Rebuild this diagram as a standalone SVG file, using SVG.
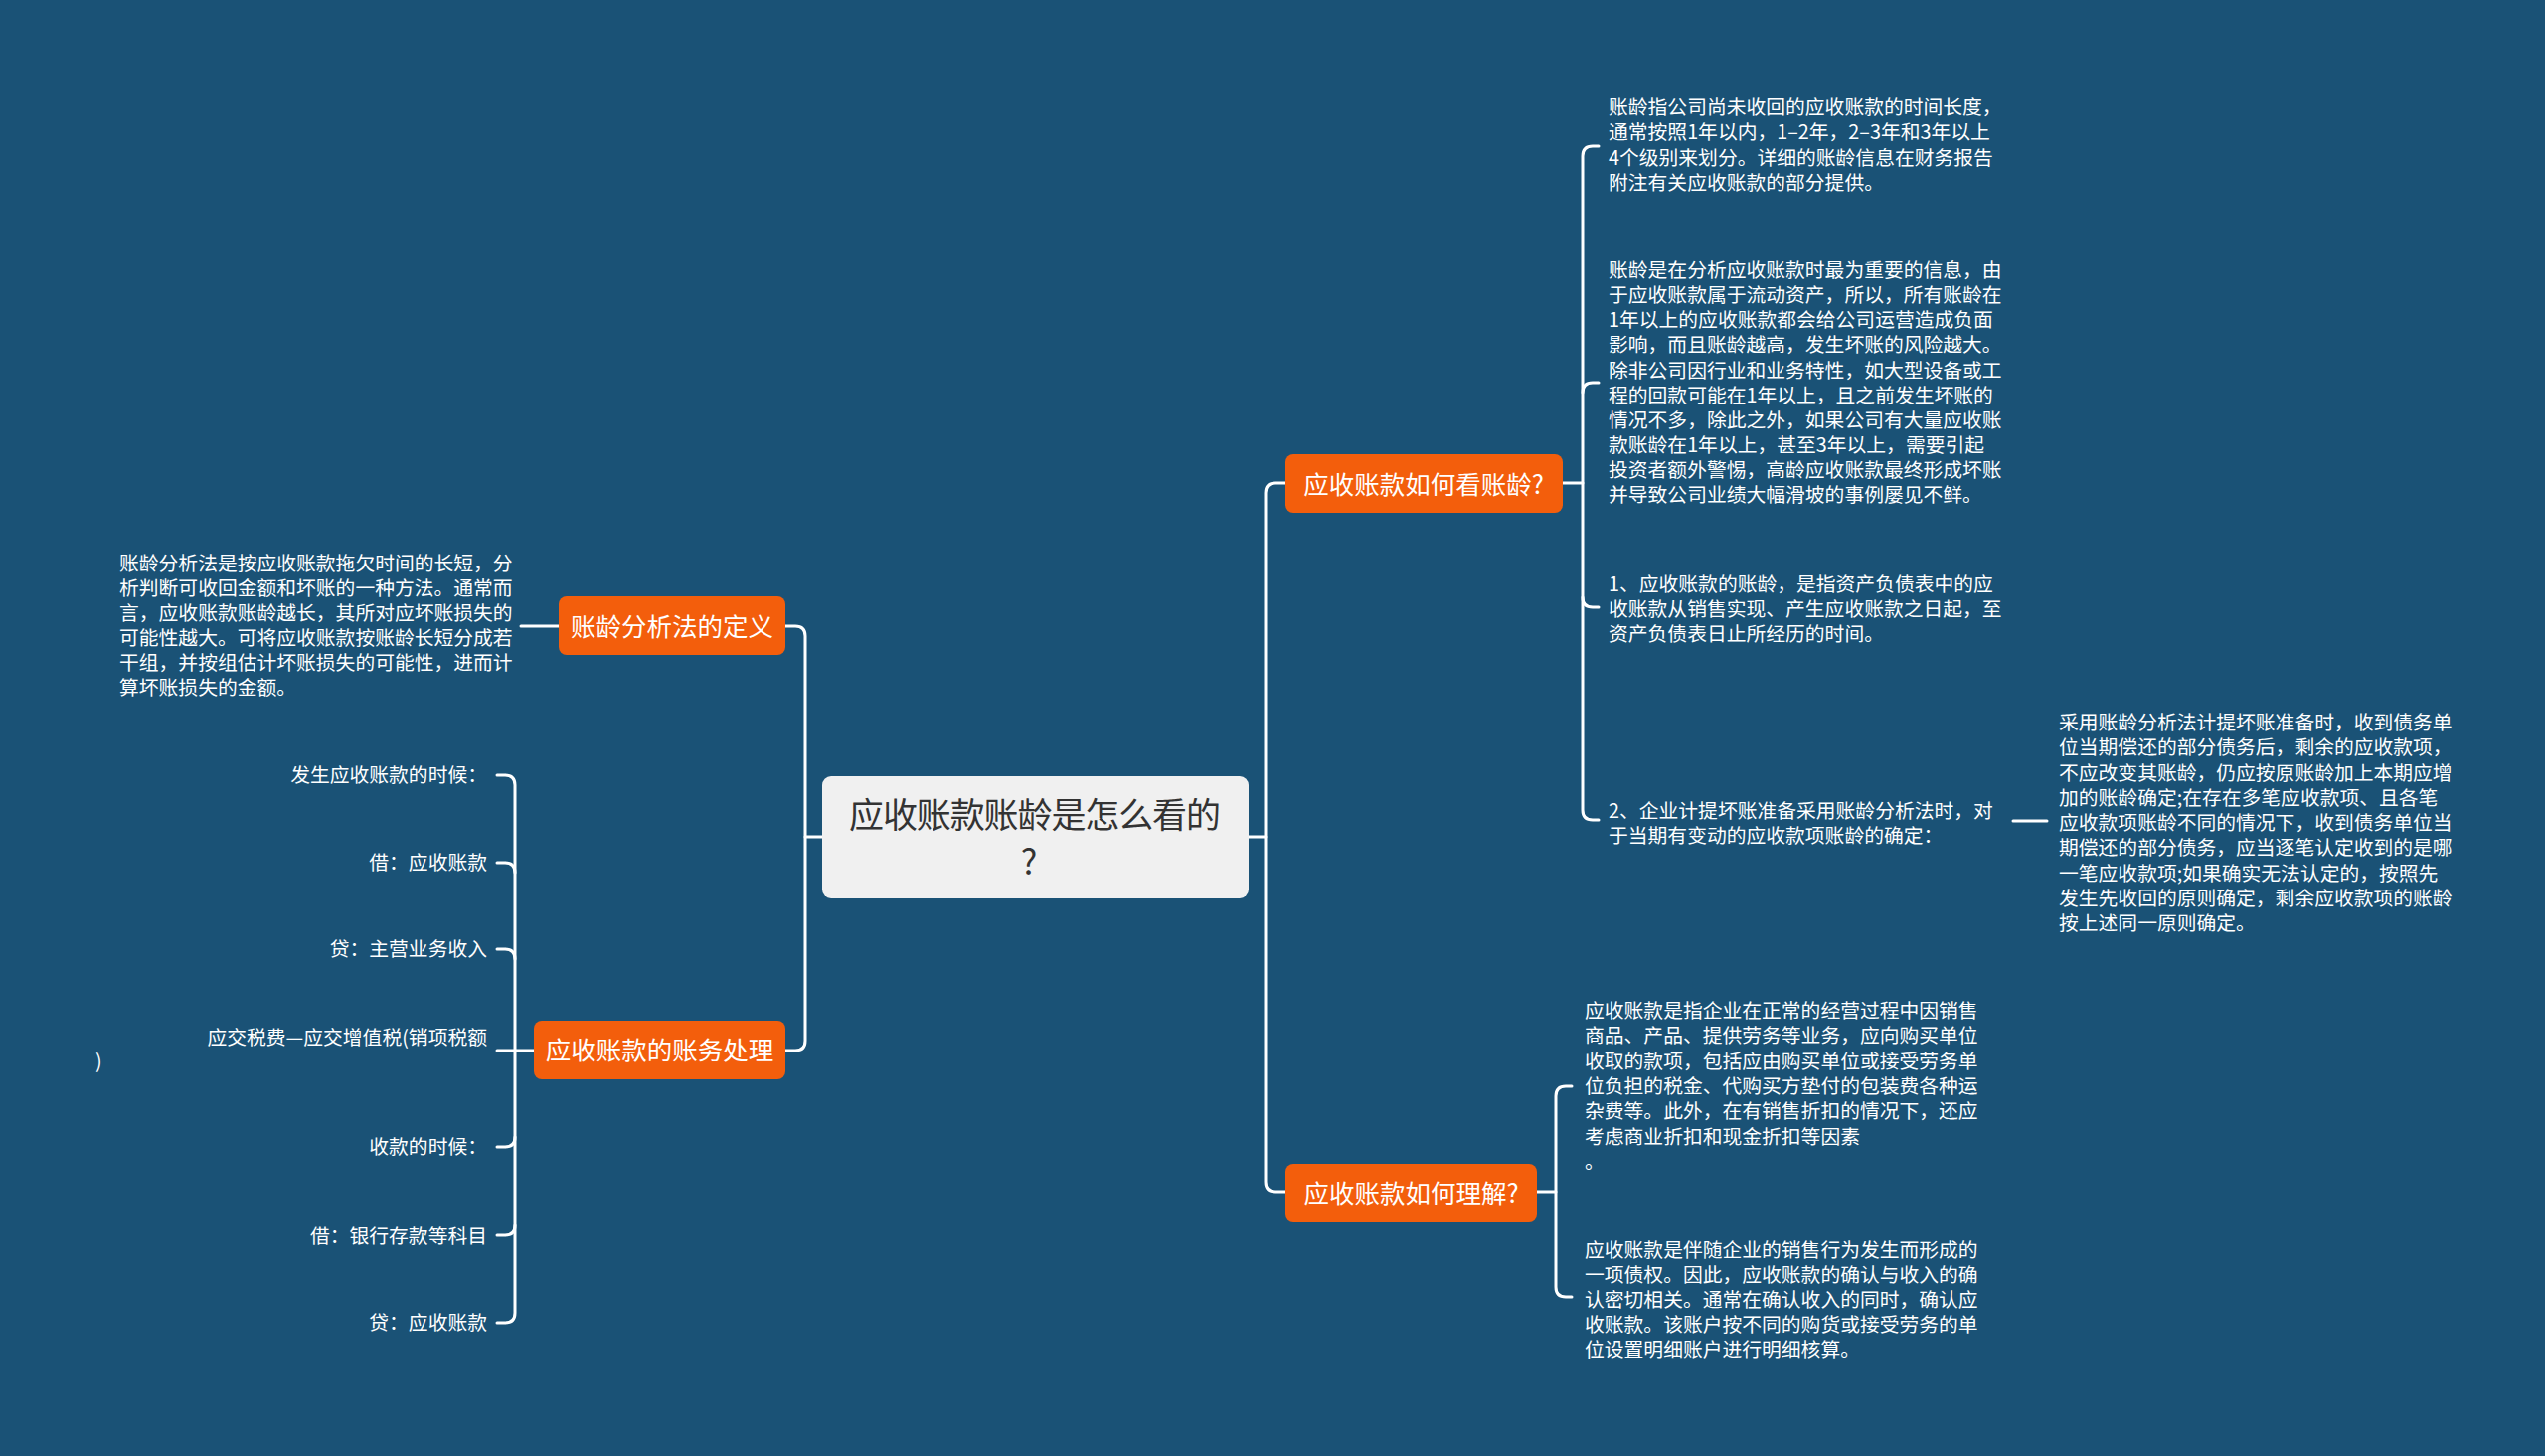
<svg xmlns="http://www.w3.org/2000/svg" width="2560" height="1465" viewBox="0 0 2560 1465">
<style>
.bg{fill:#1a5276}
.ln{fill:none;stroke:#ffffff;stroke-width:3;stroke-linecap:round;stroke-linejoin:round}
.org{fill:#f35e0c}
.ot{font-family:"Noto Sans CJK SC","Noto Sans",sans-serif;font-size:25.5px;fill:#ffffff;text-anchor:middle}
.tx{font-family:"Noto Sans CJK SC","Noto Sans",sans-serif;font-size:19.8px;fill:#ffffff}
.it{font-family:"Noto Sans CJK SC","Noto Sans",sans-serif;font-size:19.8px;fill:#ffffff;text-anchor:end}
.ct{font-family:"Noto Sans CJK SC","Noto Sans",sans-serif;font-size:35px;fill:#333333}
</style>
<rect class="bg" x="0" y="0" width="2560" height="1465"/>

<g id="connectors">
  <path class="ln" d="M828 842 H810"/>
  <path class="ln" d="M790 630 H800 Q810 630 810 640 V1047 Q810 1057 800 1057 H790"/>
  <path class="ln" d="M524 630 H562"/>
  <path class="ln" d="M537 1057 H500"/>
  <path class="ln" d="M500 780 H508 Q518 780 518 790 V1321 Q518 1331 508 1331 H500"/>
  <path class="ln" d="M500 868 H508 Q518 868 518 878"/>
  <path class="ln" d="M500 955 H508 Q518 955 518 965"/>
  <path class="ln" d="M500 1154 H508 Q518 1154 518 1144"/>
  <path class="ln" d="M500 1243 H508 Q518 1243 518 1233"/>
  <path class="ln" d="M1256 842 H1273"/>
  <path class="ln" d="M1293 486 H1283 Q1273 486 1273 496 V1189 Q1273 1199 1283 1199 H1293"/>
  <path class="ln" d="M1572 486 H1592"/>
  <path class="ln" d="M1608 147 H1602 Q1592 147 1592 157 V815 Q1592 825 1602 825 H1608"/>
  <path class="ln" d="M1608 385 H1602 Q1592 385 1592 395"/>
  <path class="ln" d="M1608 611 H1602 Q1592 611 1592 601"/>
  <path class="ln" d="M2025 826 H2059"/>
  <path class="ln" d="M1546 1199 H1565"/>
  <path class="ln" d="M1581 1093 H1575 Q1565 1093 1565 1103 V1295 Q1565 1305 1575 1305 H1581"/>
</g>

<g id="root">
  <rect x="827" y="781" width="429" height="123" rx="9" fill="#f0f0f0"/>
  <text class="ct" x="854" y="833" textLength="374" lengthAdjust="spacing">应收账款账龄是怎么看的</text>
  <text class="ct" x="1035" y="880" text-anchor="middle">?</text>
</g>

<g id="n-def">
  <rect class="org" x="562" y="600" width="228" height="59" rx="8"/>
  <text class="ot" x="676" y="639.5">账龄分析法的定义</text>
</g>
<g id="n-def-text">
  <text class="tx" x="120" y="574">
    <tspan x="120" dy="0">账龄分析法是按应收账款拖欠时间的长短，分</tspan>
    <tspan x="120" dy="24.9">析判断可收回金额和坏账的一种方法。通常而</tspan>
    <tspan x="120" dy="24.9">言，应收账款账龄越长，其所对应坏账损失的</tspan>
    <tspan x="120" dy="24.9">可能性越大。可将应收账款按账龄长短分成若</tspan>
    <tspan x="120" dy="24.9">干组，并按组估计坏账损失的可能性，进而计</tspan>
    <tspan x="120" dy="24.9">算坏账损失的金额。</tspan>
  </text>
</g>

<g id="n-acc">
  <rect class="org" x="537" y="1027" width="253" height="59" rx="8"/>
  <text class="ot" x="663.5" y="1066">应收账款的账务处理</text>
</g>
<g id="n-acc-1"><text class="it" x="490" y="787">发生应收账款的时候：</text></g>
<g id="n-acc-2"><text class="it" x="490" y="875">借：应收账款</text></g>
<g id="n-acc-3"><text class="it" x="490" y="962">贷：主营业务收入</text></g>
<g id="n-acc-4">
  <text class="it" x="490" y="1051">应交税费—应交增值税(销项税额</text>
  <text class="tx" x="96" y="1075">)</text>
</g>
<g id="n-acc-5"><text class="it" x="490" y="1161">收款的时候：</text></g>
<g id="n-acc-6"><text class="it" x="490" y="1251">借：银行存款等科目</text></g>
<g id="n-acc-7"><text class="it" x="490" y="1338">贷：应收账款</text></g>

<g id="n-age">
  <rect class="org" x="1293" y="457" width="279" height="59" rx="8"/>
  <text class="ot" x="1432" y="497">应收账款如何看账龄?</text>
</g>
<g id="n-age-1">
  <text class="tx" x="1618" y="115">
    <tspan x="1618" dy="0">账龄指公司尚未收回的应收账款的时间长度，</tspan>
    <tspan x="1618" dy="25.3">通常按照1年以内，1–2年，2–3年和3年以上</tspan>
    <tspan x="1618" dy="25.3">4个级别来划分。详细的账龄信息在财务报告</tspan>
    <tspan x="1618" dy="25.3">附注有关应收账款的部分提供。</tspan>
  </text>
</g>
<g id="n-age-2">
  <text class="tx" x="1618" y="279">
    <tspan x="1618" dy="0">账龄是在分析应收账款时最为重要的信息，由</tspan>
    <tspan x="1618" dy="25.15">于应收账款属于流动资产，所以，所有账龄在</tspan>
    <tspan x="1618" dy="25.15">1年以上的应收账款都会给公司运营造成负面</tspan>
    <tspan x="1618" dy="25.15">影响，而且账龄越高，发生坏账的风险越大。</tspan>
    <tspan x="1618" dy="25.15">除非公司因行业和业务特性，如大型设备或工</tspan>
    <tspan x="1618" dy="25.15">程的回款可能在1年以上，且之前发生坏账的</tspan>
    <tspan x="1618" dy="25.15">情况不多，除此之外，如果公司有大量应收账</tspan>
    <tspan x="1618" dy="25.15">款账龄在1年以上，甚至3年以上，需要引起</tspan>
    <tspan x="1618" dy="25.15">投资者额外警惕，高龄应收账款最终形成坏账</tspan>
    <tspan x="1618" dy="25.15">并导致公司业绩大幅滑坡的事例屡见不鲜。</tspan>
  </text>
</g>
<g id="n-age-3">
  <text class="tx" x="1618" y="595">
    <tspan x="1618" dy="0">1、应收账款的账龄，是指资产负债表中的应</tspan>
    <tspan x="1618" dy="25.2">收账款从销售实现、产生应收账款之日起，至</tspan>
    <tspan x="1618" dy="25.2">资产负债表日止所经历的时间。</tspan>
  </text>
</g>
<g id="n-age-4">
  <text class="tx" x="1618" y="823">
    <tspan x="1618" dy="0">2、企业计提坏账准备采用账龄分析法时，对</tspan>
    <tspan x="1618" dy="25.2">于当期有变动的应收款项账龄的确定：</tspan>
  </text>
</g>
<g id="n-age-5">
  <text class="tx" x="2071" y="734">
    <tspan x="2071" dy="0">采用账龄分析法计提坏账准备时，收到债务单</tspan>
    <tspan x="2071" dy="25.25">位当期偿还的部分债务后，剩余的应收款项，</tspan>
    <tspan x="2071" dy="25.25">不应改变其账龄，仍应按原账龄加上本期应增</tspan>
    <tspan x="2071" dy="25.25">加的账龄确定;在存在多笔应收款项、且各笔</tspan>
    <tspan x="2071" dy="25.25">应收款项账龄不同的情况下，收到债务单位当</tspan>
    <tspan x="2071" dy="25.25">期偿还的部分债务，应当逐笔认定收到的是哪</tspan>
    <tspan x="2071" dy="25.25">一笔应收款项;如果确实无法认定的，按照先</tspan>
    <tspan x="2071" dy="25.25">发生先收回的原则确定，剩余应收款项的账龄</tspan>
    <tspan x="2071" dy="25.25">按上述同一原则确定。</tspan>
  </text>
</g>

<g id="n-und">
  <rect class="org" x="1293" y="1171" width="253" height="59" rx="8"/>
  <text class="ot" x="1419.5" y="1210">应收账款如何理解?</text>
</g>
<g id="n-und-1">
  <text class="tx" x="1594" y="1024">
    <tspan x="1594" dy="0">应收账款是指企业在正常的经营过程中因销售</tspan>
    <tspan x="1594" dy="25.3">商品、产品、提供劳务等业务，应向购买单位</tspan>
    <tspan x="1594" dy="25.3">收取的款项，包括应由购买单位或接受劳务单</tspan>
    <tspan x="1594" dy="25.3">位负担的税金、代购买方垫付的包装费各种运</tspan>
    <tspan x="1594" dy="25.3">杂费等。此外，在有销售折扣的情况下，还应</tspan>
    <tspan x="1594" dy="25.3">考虑商业折扣和现金折扣等因素</tspan>
    <tspan x="1594" dy="25.3">。</tspan>
  </text>
</g>
<g id="n-und-2">
  <text class="tx" x="1594" y="1265">
    <tspan x="1594" dy="0">应收账款是伴随企业的销售行为发生而形成的</tspan>
    <tspan x="1594" dy="25">一项债权。因此，应收账款的确认与收入的确</tspan>
    <tspan x="1594" dy="25">认密切相关。通常在确认收入的同时，确认应</tspan>
    <tspan x="1594" dy="25">收账款。该账户按不同的购货或接受劳务的单</tspan>
    <tspan x="1594" dy="25">位设置明细账户进行明细核算。</tspan>
  </text>
</g>
</svg>
